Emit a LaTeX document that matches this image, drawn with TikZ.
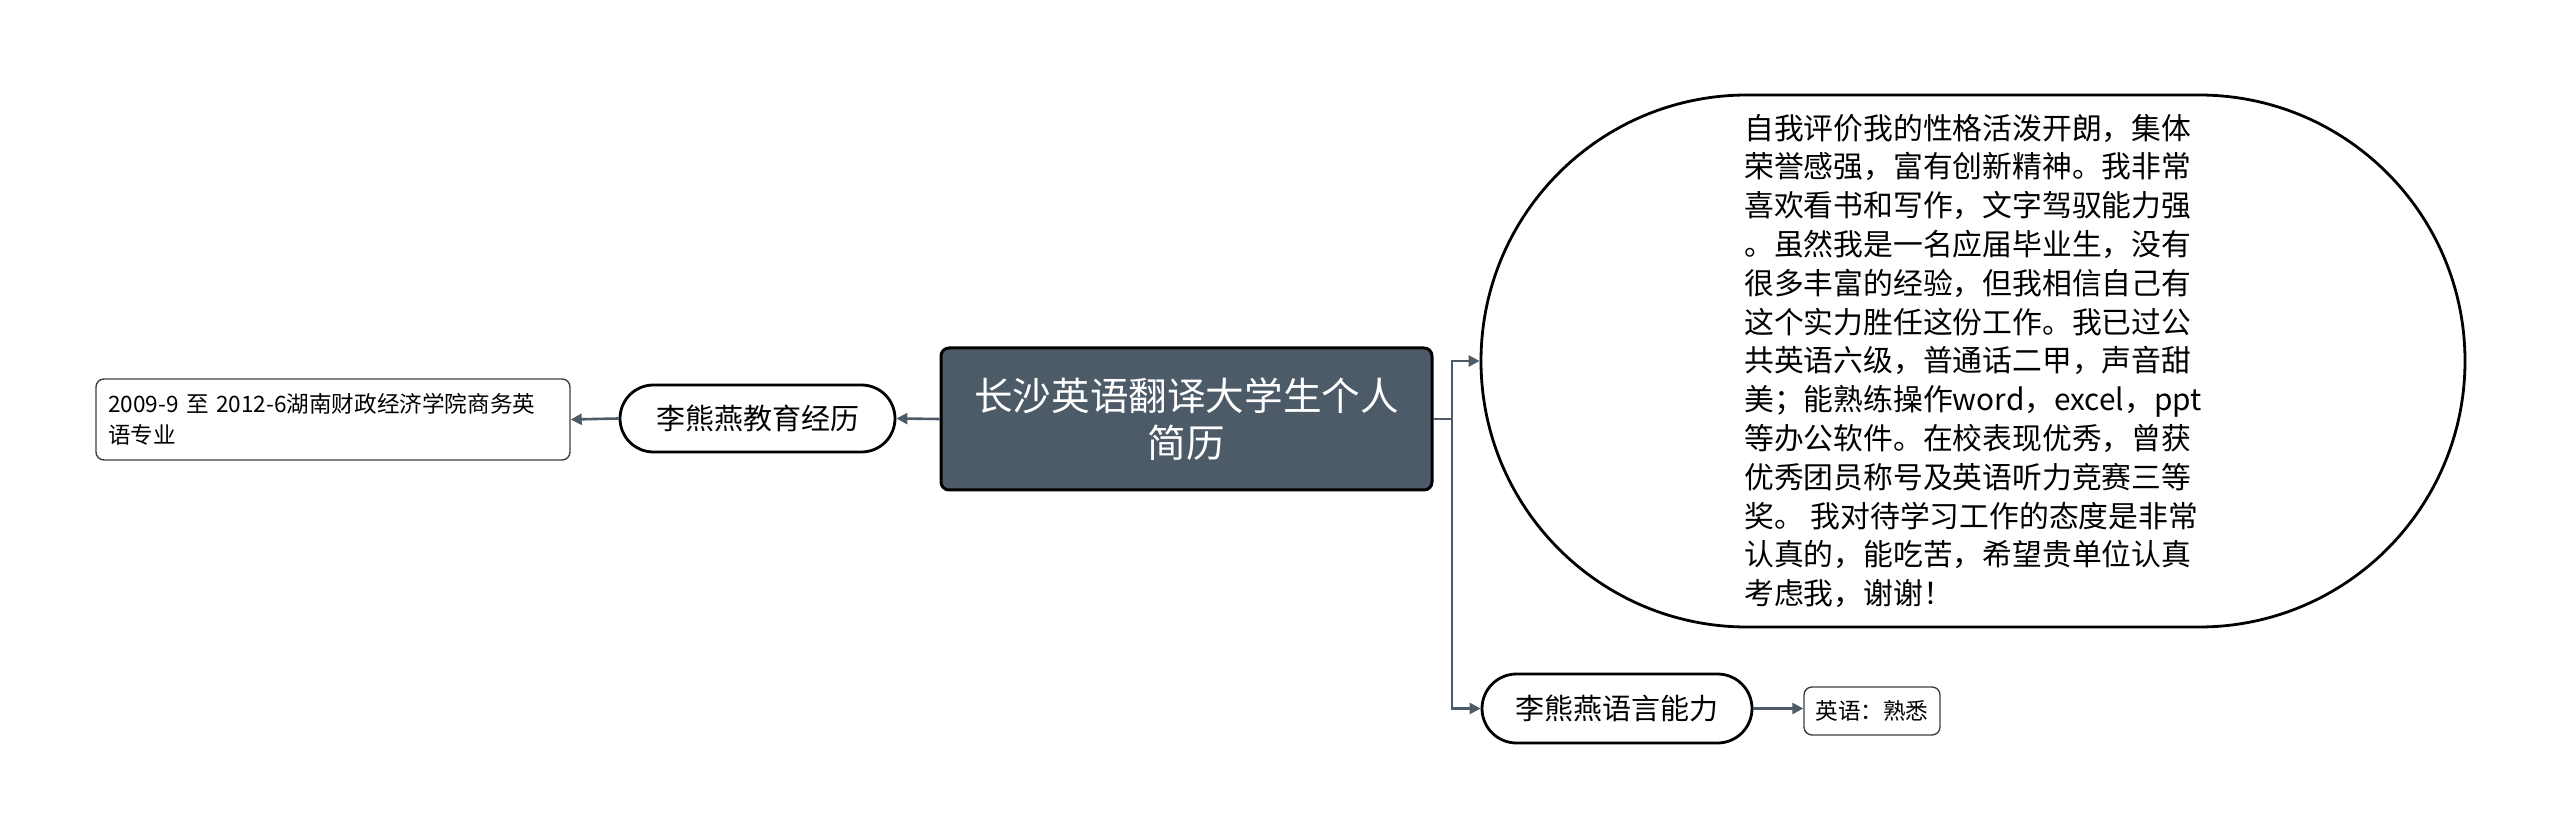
\documentclass[tikz,border=0pt]{standalone}
\usepackage{fontspec}
\newfontfamily\cjk{Noto Sans CJK SC}
\usetikzlibrary{arrows.meta,shapes.misc}
\definecolor{pizarra}{HTML}{4D5B69}

\begin{document}
\begin{tikzpicture}[x=0.5pt,y=-0.5pt,
    conector/.style={draw=pizarra, line width=1.3pt, -{Triangle[length=5.5pt,width=5.5pt]}},
    capsula/.style={rounded rectangle, draw=black, line width=1.4pt, fill=white, inner sep=0pt},
    hoja/.style={rectangle, rounded corners=4pt, draw=black!75, line width=0.7pt, fill=white, inner sep=0pt}]
    % Marco de la imagen (2560 x 839 px)
    \useasboundingbox (0,0) rectangle (2560,839);

    % Nodo central
    \node[rectangle, rounded corners=4pt, draw=black, line width=1.5pt, fill=pizarra,
          minimum width=245.5pt, minimum height=71pt, text=white, align=center,
          font=\cjk\fontsize{19.3}{23.5}\selectfont] (central) at (1186.5,419)
          {长沙英语翻译大学生个人\\简历};

    % Rama izquierda: educación
    \node[capsula, minimum width=137.5pt, minimum height=33.5pt,
          font=\cjk\fontsize{14.5}{17}\selectfont] (edu) at (757.5,418.5) {李熊燕教育经历};
    \node[hoja, inner xsep=6pt, text width=225pt, minimum height=40.5pt, align=left,
          font=\cjk\fontsize{11.3}{15.5}\selectfont] (estudios) at (333,419.5)
          {2009-9 至 2012-6湖南财政经济学院商务英\\语专业};

    % Rama derecha: autoevaluación e idiomas
    \node[capsula, minimum width=492pt, minimum height=266pt, align=left,
          font=\cjk\fontsize{14.9}{19.4}\selectfont] (autoeval) at (1973,361)
          {自我评价我的性格活泼开朗，集体\\
           荣誉感强，富有创新精神。我非常\\
           喜欢看书和写作，文字驾驭能力强\\
           。虽然我是一名应届毕业生，没有\\
           很多丰富的经验，但我相信自己有\\
           这个实力胜任这份工作。我已过公\\
           共英语六级，普通话二甲，声音甜\\
           美；能熟练操作word，excel，ppt\\
           等办公软件。在校表现优秀，曾获\\
           优秀团员称号及英语听力竞赛三等\\
           奖。 我对待学习工作的态度是非常\\
           认真的，能吃苦，希望贵单位认真\\
           考虑我，谢谢！};
    \node[capsula, minimum width=135pt, minimum height=34.5pt,
          font=\cjk\fontsize{14.5}{17}\selectfont] (idiomas) at (1617,708.5) {李熊燕语言能力};
    \node[hoja, minimum width=68pt, minimum height=24pt,
          font=\cjk\fontsize{11.3}{14}\selectfont] (ingles) at (1872,711) {英语：熟悉};

    % Conectores
    \coordinate (tronco) at (1452,419);
    \draw[conector] (central.west) -- (edu.east);
    \draw[conector] (edu.west) -- (estudios.east);
    \draw[draw=pizarra, line width=1.3pt] (central.east) -- (tronco);
    \draw[conector] (tronco) |- (autoeval.west);
    \draw[conector] (tronco) |- (idiomas.west);
    \draw[conector] (idiomas.east) -- (idiomas.east -| ingles.west);
\end{tikzpicture}
\end{document}
